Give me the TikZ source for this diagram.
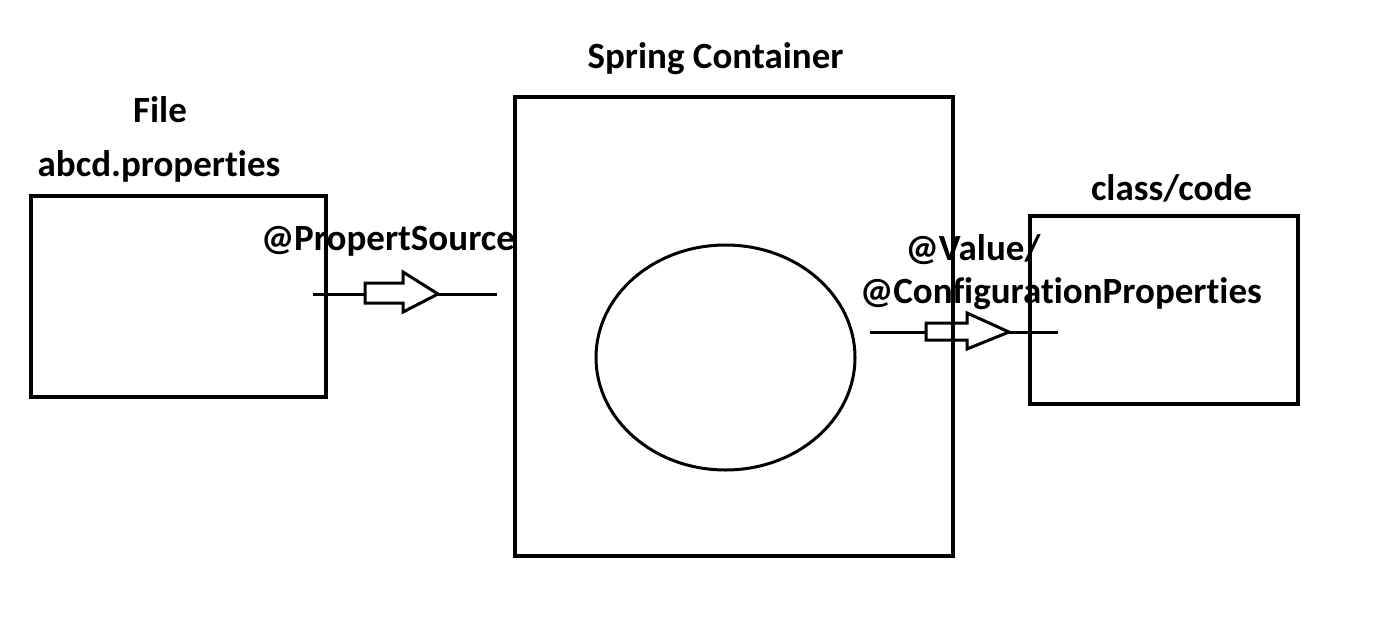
\documentclass[tikz,border=0pt]{standalone}
\usepackage{fontspec}
\setmainfont[Ligatures=NoCommon]{Carlito}
\usetikzlibrary{shapes.geometric}
\tikzset{
  lbl/.style={font=\bfseries\fontsize{37}{42}\selectfont, anchor=base, inner sep=0pt},
  boxline/.style={line width=4pt},
  conn/.style={line width=3pt},
  hollow/.style={line width=3pt, fill=white, line join=miter},
}
\begin{document}
\begin{tikzpicture}[x=1pt,y=-1pt]
\useasboundingbox (0,0) rectangle (1378,626);
% labels
\node[lbl] (tspring) at (715.5,69) {Spring Container};
\node[lbl] (tfile) at (160,122) {File};
\node[lbl] (tabcd) at (159,176) {abcd.properties};
\node[lbl] (tps) at (388,250) {@PropertSource};
\node[lbl] (tclass) at (1171.5,200) {class/code};
\node[lbl] (tval) at (973,260) {@Value/};
\node[lbl] (tconf) at (1061,303) {@ConfigurationProperties};
% arrow 1
\coordinate (a1s) at (313,294);
\coordinate (a1e) at (497,294);
\draw[conn] (a1s) -- (a1e);
\draw[hollow] (365,283) -- (403,283) -- (403,272) -- (438,294) -- (403,312) -- (403,303) -- (365,303) -- cycle;
% arrow 2
\coordinate (a2s) at (870,332);
\coordinate (a2e) at (1058,332);
\draw[conn] (a2s) -- (a2e);
\draw[hollow] (926,323) -- (967,323) -- (967,313) -- (1009,332) -- (967,349) -- (967,340) -- (926,340) -- cycle;
% boxes
\node[boxline, draw, minimum width=295pt, minimum height=201pt, inner sep=0pt] (file) at (178.5,296.5) {};
\node[boxline, draw, minimum width=438pt, minimum height=459pt, inner sep=0pt] (spring) at (734,326.5) {};
\node[boxline, draw, minimum width=268pt, minimum height=188pt, inner sep=0pt] (cls) at (1164,310) {};
\node[conn, draw, ellipse, minimum width=259pt, minimum height=225pt, inner sep=0pt] (bean) at (725.5,357.5) {};
\end{tikzpicture}
\end{document}
